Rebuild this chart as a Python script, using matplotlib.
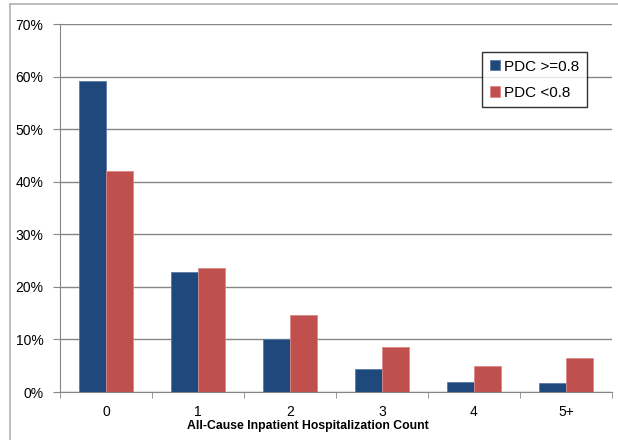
import matplotlib
matplotlib.use("Agg")
import matplotlib.pyplot as plt
from matplotlib.lines import Line2D
import numpy as np

categories = ["0", "1", "2", "3", "4", "5+"]
pdc_high = [59.2, 22.8, 10.1, 4.4, 1.9, 1.7]
pdc_low = [42.0, 23.6, 14.6, 8.5, 4.9, 6.5]
series_names = ["PDC >=0.8", "PDC <0.8"]
yticks = [0, 10, 20, 30, 40, 50, 60, 70]

plt.rcParams['font.family'] = ['Liberation Sans', 'DejaVu Sans']

fig = plt.figure(figsize=(6.18, 4.40), dpi=100)
ax = fig.add_axes([60/618, 1-392/440, 552/618, 368/440])

x = np.arange(len(categories))
w = 0.293
ax.bar(x - w/2, pdc_high, width=w, color="#1F497D", edgecolor="#5a7aa6", linewidth=0.6,
       label=series_names[0], zorder=3)
ax.bar(x + w/2, pdc_low, width=w, color="#C0504D", edgecolor="#d98a88", linewidth=0.6,
       label=series_names[1], zorder=3)

ax.set_xlim(-0.5, len(categories) - 0.5)
ax.set_ylim(0, 70)
ax.set_yticks(yticks)
ax.set_yticklabels([f"{v}%" for v in yticks], fontsize=10)
ax.yaxis.grid(True, color="#868686", linewidth=1.0, zorder=0)
ax.set_axisbelow(True)

ax.set_xticks(x)
ax.set_xticklabels(categories, fontsize=10)
ax.set_xticks(np.arange(-0.5, len(categories)), minor=True)
ax.tick_params(axis='x', which='major', length=0, pad=9)
ax.tick_params(axis='x', which='minor', length=4, color="#868686", direction='out')
ax.tick_params(axis='y', length=5, color="#868686", direction='out', pad=7)

for s in ["top", "right"]:
    ax.spines[s].set_visible(False)
ax.spines["left"].set_color("#868686")
ax.spines["bottom"].set_color("#868686")

ax.set_xlabel("All-Cause Inpatient Hospitalization Count", fontsize=8.8, fontweight='bold')
ax.xaxis.set_label_coords((308-60)/552, -(426-392)/368, transform=ax.transAxes)
ax.xaxis.label.set_verticalalignment('center')

leg = ax.legend(loc='upper left', bbox_to_anchor=((482-60)/552, (392-52)/368),
                fontsize=11, frameon=True, fancybox=False, edgecolor="black",
                handlelength=0.65, handleheight=0.65, handletextpad=0.3,
                borderpad=0.5, labelspacing=0.8, borderaxespad=0)
leg.get_frame().set_linewidth(1.0)

# outer frame lines
fig.add_artist(Line2D([10/618, 10/618], [0, 1-4/440], transform=fig.transFigure, color="#b0b0b0", linewidth=1.2))
fig.add_artist(Line2D([10/618, 1], [1-4/440, 1-4/440], transform=fig.transFigure, color="#b0b0b0", linewidth=1.2))

fig.savefig("out.png", dpi=100)
